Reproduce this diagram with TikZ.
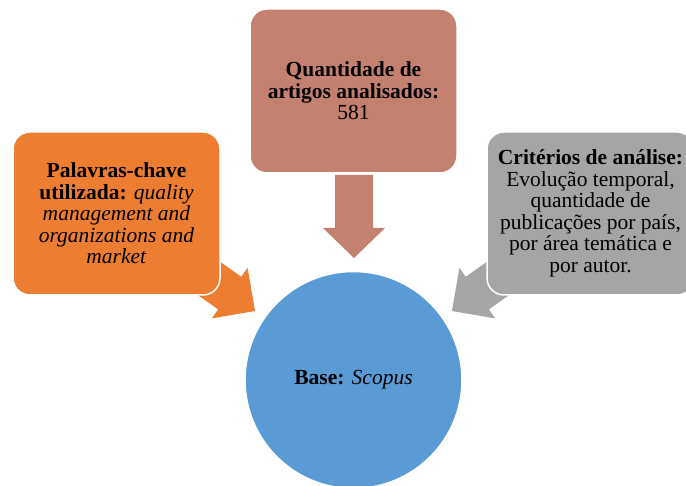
\documentclass[tikz,border=0pt]{standalone}
\usepackage{fontspec}
\setmainfont{Liberation Serif}
\definecolor{orng}{HTML}{ED7D31}
\definecolor{rose}{HTML}{C58170}
\definecolor{gry}{HTML}{A5A5A5}
\definecolor{blu}{HTML}{5B9BD5}
\begin{document}
\begin{tikzpicture}[x=1pt,y=-1pt,
  box/.style={rectangle, rounded corners=17pt, draw=white, line width=1.5pt,
    minimum width=207pt, minimum height=163pt, align=center, inner sep=0pt,
    font=\fontsize{21.5}{21.5}\selectfont},
  blockarrow/.style={draw=none}]
\useasboundingbox (0,0) rectangle (686,486);
% block arrows
\fill[orng] (177.3,280.5) -- (218.1,309.4) -- (211.8,318.4) -- (255,311) -- (247.6,267.8) -- (241.3,276.8) -- (200.5,247.9) -- cycle;
\fill[gry] (529.7,280.5) -- (488.9,309.4) -- (495.2,318.4) -- (452,311) -- (459.4,267.8) -- (465.7,276.8) -- (506.5,247.9) -- cycle;
\fill[rose] (335,175) -- (335,228) -- (323,228) -- (354,258) -- (385,228) -- (373,228) -- (373,175) -- cycle;
% boxes
\node[box, fill=orng] (kw) at (116.5,213.5) {\textbf{Palavras-chave}\\ \textbf{utilizada:} \textit{quality}\\ \textit{management and}\\ \textit{organizations and}\\ \textit{market}};
\node[box, fill=rose, minimum height=164pt] (qt) at (353.5,91) {\textbf{Quantidade de}\\ \textbf{artigos analisados:}\\ 581};
\node[box, fill=gry] (cr) at (590.5,213.5) {\textbf{Critérios de análise:}\\ Evolução temporal,\\ quantidade de\\ publicações por país,\\ por área temática e\\ por autor.};
\node[circle, fill=blu, draw=white, line width=1.5pt, minimum size=217pt, inner sep=0pt,
  font=\fontsize{21.5}{21.5}\selectfont] (base) at (353.5,380) {\textbf{Base:} \textit{Scopus}};
\end{tikzpicture}
\end{document}
